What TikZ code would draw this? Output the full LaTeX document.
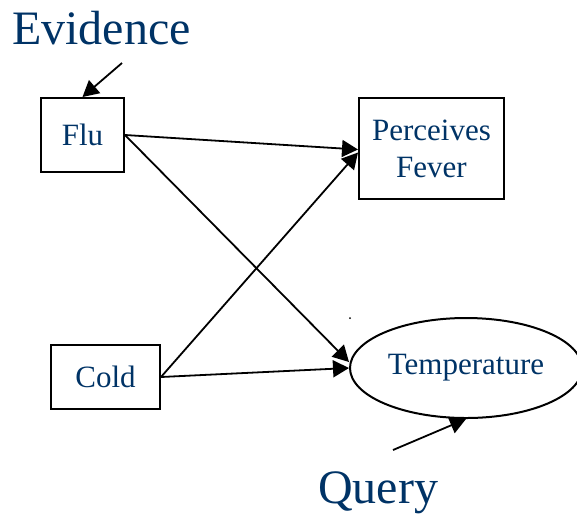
\documentclass[tikz,border=0pt]{standalone}
\usepackage{fontspec}
\setmainfont{Liberation Serif}
\usetikzlibrary{arrows.meta,shapes.geometric}
\definecolor{txtblue}{RGB}{0,51,102}
\begin{document}
\begin{tikzpicture}[x=1pt,y=-1pt,
  box/.style={draw=black,line width=2pt,inner sep=0pt,text=txtblue,font=\fontsize{31}{37}\selectfont,align=center},
  big/.style={text=txtblue,font=\fontsize{48}{50}\selectfont,inner sep=0pt,anchor=base west},
  conn/.style={line width=1.8pt,-{Triangle[length=16pt,width=17pt]}}]
\useasboundingbox (0,0) rectangle (577,520);
\node[big] (ev) at (12,44) {Evidence};
\node[big] (qu) at (318,503) {Query};
\node[box,minimum width=83pt,minimum height=74pt] (flu) at (82.5,135) {Flu};
\node[box,minimum width=145pt,minimum height=101pt] (pf) at (431.5,148.5) {Perceives\\Fever};
\node[box,minimum width=109pt,minimum height=64pt] (cold) at (105.5,377) {Cold};
\node[draw=black,line width=2pt,ellipse,inner sep=0pt,minimum width=232pt,minimum height=100pt,text=txtblue,font=\fontsize{31}{33}\selectfont] (t) at (466,368) {\raisebox{-3pt}{Temperature}};
\coordinate (evs) at (122,63);
\coordinate (qs) at (393,450);
\fill (350,318) circle (1pt);
\draw[conn] (evs) -- (flu.north);
\draw[conn] (flu.east) -- ([yshift=-1pt]pf.west);
\draw[conn] (flu.east) -- ([yshift=6pt]t.west);
\draw[conn] (cold.east) -- ([yshift=-4pt]pf.west);
\draw[conn] (cold.east) -- (t.west);
\draw[conn] (qs) -- (t.south);
\end{tikzpicture}
\end{document}
